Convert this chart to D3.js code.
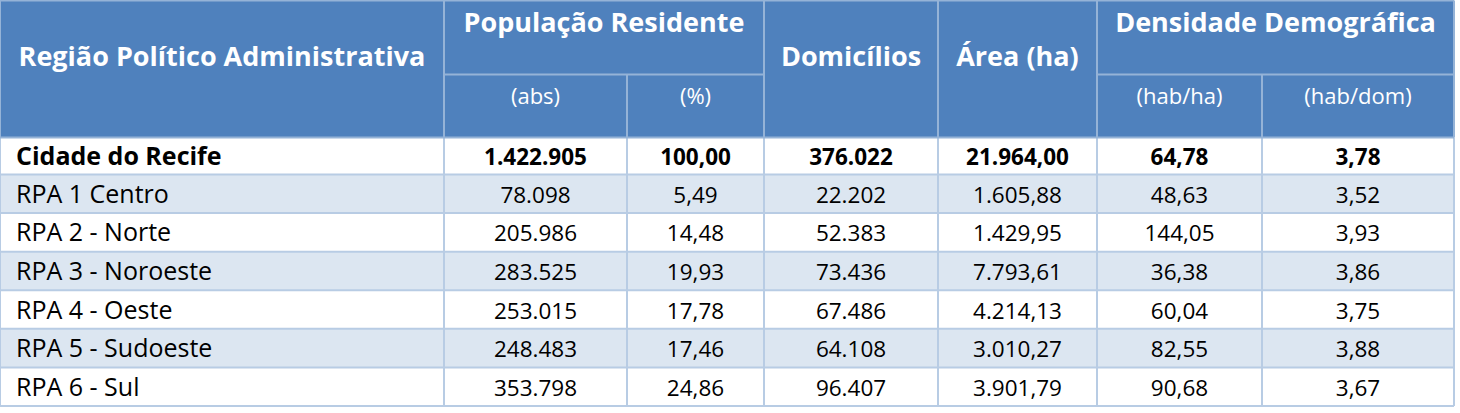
<!DOCTYPE html>
<html>
<head>
<meta charset="utf-8">
<script src="https://cdnjs.cloudflare.com/ajax/libs/d3/7.8.5/d3.min.js"></script>
<style>
body { margin: 0; background: #fff; }
svg text { font-family: "Open Sans", Lato, sans-serif; }
</style>
</head>
<body>
<div id="table"></div>
<script>
// data
var regions = ["Cidade do Recife", "RPA 1 Centro", "RPA 2 - Norte", "RPA 3 - Noroeste", "RPA 4 - Oeste", "RPA 5 - Sudoeste", "RPA 6 - Sul"];
var popAbs = ["1.422.905", "78.098", "205.986", "283.525", "253.015", "248.483", "353.798"];
var popPct = ["100,00", "5,49", "14,48", "19,93", "17,78", "17,46", "24,86"];
var domicilios = ["376.022", "22.202", "52.383", "73.436", "67.486", "64.108", "96.407"];
var area = ["21.964,00", "1.605,88", "1.429,95", "7.793,61", "4.214,13", "3.010,27", "3.901,79"];
var densHa = ["64,78", "48,63", "144,05", "36,38", "60,04", "82,55", "90,68"];
var densDom = ["3,78", "3,52", "3,93", "3,86", "3,75", "3,88", "3,67"];

var colKeys = ["regiao", "abs", "pct", "dom", "area", "ha", "hdom"];
var topHeaders = [
	{ label: "Região Político Administrativa", from: "regiao", to: "regiao", full: true },
	{ label: "População Residente", from: "abs", to: "pct", full: false },
	{ label: "Domicílios", from: "dom", to: "dom", full: true },
	{ label: "Área (ha)", from: "area", to: "area", full: true },
	{ label: "Densidade Demográfica", from: "ha", to: "hdom", full: false }
];
var subHeaders = [
	{ label: "(abs)", col: "abs" },
	{ label: "(%)", col: "pct" },
	{ label: "(hab/ha)", col: "ha" },
	{ label: "(hab/dom)", col: "hdom" }
];

// layout
var W = 1460, H = 413;
var colWidths = [444, 183, 137, 174, 159, 165, 192];
var tableTop = 0.5, headTopH = 74, headSubH = 63, firstRowH = 37;
var bodyBottom = 406;
var headBlue = "#4f81bd", headLine = "#95b3d7", stripe = "#dce6f1", bodyLine = "#b8cce4";

var colEdges = [0];
colWidths.forEach(function(w, i) { colEdges.push(colEdges[i] + w); });
var xLeft = d3.scaleOrdinal().domain(colKeys).range(colEdges.slice(0, -1));
var xWidth = d3.scaleOrdinal().domain(colKeys).range(colWidths);

var headerBottom = tableTop + headTopH + headSubH;
var bodyTop = headerBottom + firstRowH;
var y = d3.scaleBand()
	.domain(regions.slice(1))
	.range([bodyTop, bodyBottom]);
function rowTop(r, i) { return i === 0 ? headerBottom : y(r); }
function rowH(r, i) { return i === 0 ? firstRowH : y.bandwidth(); }

var rows = regions.map(function(r, i) {
	return { region: r, i: i, vals: [r, popAbs[i], popPct[i], domicilios[i], area[i], densHa[i], densDom[i]] };
});

var svg = d3.select("#table").append("svg")
	.attr("width", W)
	.attr("height", H);

// header background
var tableRight = colEdges[colEdges.length - 1];
svg.append("rect")
	.attr("x", 0).attr("y", tableTop)
	.attr("width", tableRight).attr("height", headTopH + headSubH)
	.attr("fill", headBlue);

// body rows
var bodyRows = svg.selectAll(".row")
	.data(rows)
	.enter()
	.append("g")
	.attr("class", "row");
bodyRows.append("rect")
	.attr("x", 0)
	.attr("y", function(d) { return rowTop(d.region, d.i); })
	.attr("width", tableRight)
	.attr("height", function(d) { return rowH(d.region, d.i); })
	.attr("fill", function(d) { return d.i % 2 === 1 ? stripe : "#ffffff"; });

// body grid lines
var grid = svg.append("g").attr("stroke", bodyLine).attr("stroke-width", 2);
rows.forEach(function(d) {
	var yy = rowTop(d.region, d.i) + rowH(d.region, d.i);
	grid.append("line").attr("x1", 0).attr("x2", tableRight).attr("y1", yy).attr("y2", yy);
});
colEdges.forEach(function(xx) {
	grid.append("line").attr("x1", xx).attr("x2", xx).attr("y1", headerBottom).attr("y2", bodyBottom);
});

// header grid lines
var hgrid = svg.append("g").attr("stroke", headLine).attr("stroke-width", 2);
hgrid.append("line").attr("x1", 0).attr("x2", tableRight).attr("y1", tableTop).attr("y2", tableTop);
hgrid.append("line").attr("x1", 0).attr("x2", tableRight).attr("y1", headerBottom).attr("y2", headerBottom);
topHeaders.forEach(function(h) {
	var x0 = xLeft(h.from);
	var x1 = xLeft(h.to) + xWidth(h.to);
	if (!h.full) {
		hgrid.append("line").attr("x1", x0).attr("x2", x1)
			.attr("y1", tableTop + headTopH).attr("y2", tableTop + headTopH);
	}
});
colEdges.forEach(function(xx, i) {
	var key = colKeys[i];
	var y0 = tableTop;
	// inner split within a spanning group starts at the sub-header
	if (key === "pct" || key === "hdom") y0 = tableTop + headTopH;
	hgrid.append("line").attr("x1", xx).attr("x2", xx).attr("y1", y0).attr("y2", headerBottom);
});

// header labels
svg.selectAll(".toph")
	.data(topHeaders)
	.enter()
	.append("text")
	.attr("class", "toph")
	.attr("x", function(h) { return (xLeft(h.from) + xLeft(h.to) + xWidth(h.to)) / 2; })
	.attr("y", function(h) { return h.full ? 66 : 32; })
	.attr("text-anchor", "middle")
	.attr("fill", "#ffffff")
	.attr("font-weight", "bold")
	.attr("font-size", "27px")
	.text(function(h) { return h.label; });

svg.selectAll(".subh")
	.data(subHeaders)
	.enter()
	.append("text")
	.attr("class", "subh")
	.attr("x", function(h) { return xLeft(h.col) + xWidth(h.col) / 2; })
	.attr("y", 104)
	.attr("text-anchor", "middle")
	.attr("fill", "#ffffff")
	.attr("font-size", "22px")
	.text(function(h) { return h.label; });

// cell values
bodyRows.each(function(d) {
	var g = d3.select(this);
	var top = rowTop(d.region, d.i), h = rowH(d.region, d.i);
	colKeys.forEach(function(k, j) {
		g.append("text")
			.attr("x", j === 0 ? 16 : xLeft(k) + xWidth(k) / 2)
			.attr("y", top + h / 2 + 9)
			.attr("text-anchor", j === 0 ? "start" : "middle")
			.attr("fill", "#000000")
			.attr("font-weight", d.i === 0 ? "bold" : "normal")
			.attr("font-size", j === 0 ? "25px" : "22.5px")
			.text(d.vals[j]);
	});
});
</script>
</body>
</html>
